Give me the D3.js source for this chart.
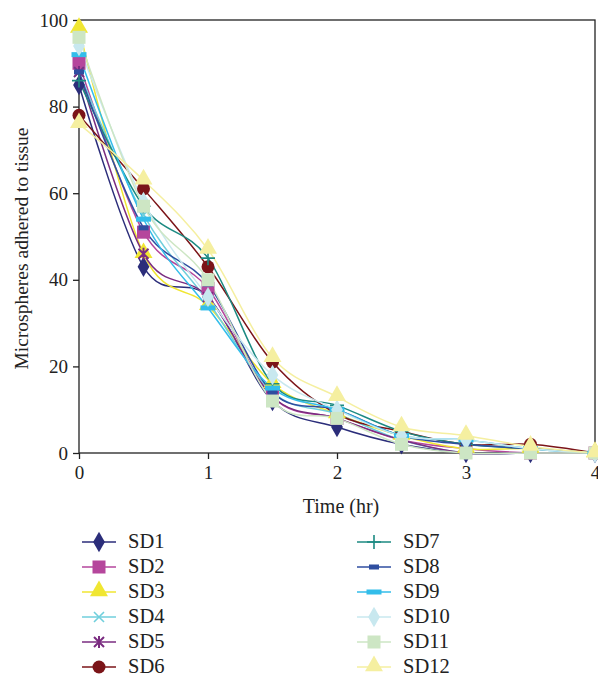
<!DOCTYPE html>
<html><head><meta charset="utf-8">
<script src="https://cdn.jsdelivr.net/npm/d3@7"></script>
<style>body{margin:0;background:#fff}svg{display:block}text{font-family:"Liberation Serif","Times New Roman",serif;fill:#222}</style>
</head><body><svg id="c" width="598" height="678"></svg>
<script>
const times = [0, 0.5, 1, 1.5, 2, 2.5, 3, 3.5, 4];
const seriesNames = ["SD1","SD2","SD3","SD4","SD5","SD6","SD7","SD8","SD9","SD10","SD11","SD12"];
const SD1  = [85, 43, 36, 12, 6, 2, 0, 0, 0];
const SD2  = [90, 51, 38, 13, 8, 3, 1, 0, 0];
const SD3  = [98, 46, 34, 16, 9, 4, 1, 1, 0];
const SD4  = [88, 55, 35, 14, 9, 3, 0, 0, 0];
const SD5  = [88, 46, 36, 13, 8, 3, 0, 0, 0];
const SD6  = [78, 61, 43, 21, 9, 5, 2, 2, 0];
const SD7  = [86, 57, 45, 16, 11, 5, 2, 1, 0];
const SD8  = [88, 52, 39, 14, 10, 4, 2, 1, 0];
const SD9  = [92, 54, 33.5, 15, 10, 4, 3, 1, 0];
const SD10 = [94, 58, 36, 18, 10, 4, 3, 1, 0];
const SD11 = [96, 57, 40, 12, 8, 2, 0, 0, 0];
const SD12 = [76, 63, 47, 22, 13, 6, 4, 1.5, 0];
const values = [SD1,SD2,SD3,SD4,SD5,SD6,SD7,SD8,SD9,SD10,SD11,SD12];
const colors = ["#2b2d7a","#b5469c","#f0e632","#70cfdc","#7a2c80","#7b1418","#1c8a82","#2f4ea0","#33bdea","#c8e8ef","#cde6c4","#f5efa0"];
const shapes = ["diamond","square","triangle","x","star","circle","plus","dash","longdash","diamond","square","triangle"];
const xTicks = [0,1,2,3,4];
const yTicks = [0,20,40,60,80,100];

const svg = d3.select("#c");
const L = 79, R = 595, T = 20, B = 453;
const x = d3.scaleLinear().domain([0,4]).range([L,R]);
const y = d3.scaleLinear().domain([0,100]).range([B,T]);

function drawMarker(g, shape, color){
  if(shape==="diamond") g.append("path").attr("d", d3.symbol(d3.symbolDiamond, 120)()).attr("fill", color);
  else if(shape==="square") g.append("rect").attr("x",-6.5).attr("y",-6.5).attr("width",13).attr("height",13).attr("fill", color);
  else if(shape==="triangle") g.append("path").attr("d", d3.symbol(d3.symbolTriangle, 140)()).attr("fill", color).attr("transform","translate(0,-1)");
  else if(shape==="circle") g.append("circle").attr("r",6.5).attr("fill", color);
  else if(shape==="x") g.append("path").attr("d","M-5,-5L5,5M-5,5L5,-5").attr("stroke",color).attr("stroke-width",1.6).attr("fill","none");
  else if(shape==="star") g.append("path").attr("d","M-5,-5L5,5M-5,5L5,-5M0,-6L0,6").attr("stroke",color).attr("stroke-width",2).attr("fill","none");
  else if(shape==="plus") g.append("path").attr("d","M-7,0L7,0M0,-7L0,7").attr("stroke",color).attr("stroke-width",1.6).attr("fill","none");
  else if(shape==="dash") g.append("rect").attr("x",-5).attr("y",-2.5).attr("width",10).attr("height",5).attr("fill", color);
  else if(shape==="longdash") g.append("rect").attr("x",-7.5).attr("y",-2.5).attr("width",15).attr("height",5).attr("fill", color);
}

// axes
const yAxis = d3.axisLeft(y).tickValues(yTicks).tickFormat(d3.format("d")).tickSize(6).tickPadding(5);
const xAxis = d3.axisBottom(x).tickValues(xTicks).tickFormat(d3.format("d")).tickSize(6).tickPadding(7);
const gy = svg.append("g").attr("transform",`translate(${L},0)`).call(yAxis);
const gx = svg.append("g").attr("transform",`translate(0,${B})`).call(xAxis);
[gy,gx].forEach(g=>{g.selectAll("path,line").attr("stroke","#222").attr("stroke-width",1.3);
  g.selectAll("text").style("font-family","'Liberation Serif',serif").style("font-size","19px").attr("fill","#222");});
gy.select(".domain").remove(); gx.select(".domain").remove();
svg.append("rect").attr("x",L).attr("y",T).attr("width",R-L).attr("height",B-T).attr("fill","none").attr("stroke","#222").attr("stroke-width",1.3);

svg.append("text").attr("transform",`translate(28,${(T+B)/2+12}) rotate(-90)`).attr("text-anchor","middle").style("font-size","19.5px").text("Microspheres adhered to tissue");
svg.append("text").attr("x",(L+R)/2+4).attr("y",513).attr("text-anchor","middle").style("font-size","20px").text("Time (hr)");

const line = d3.line().x((d,i)=>x(times[i])).y(d=>y(d)).curve(d3.curveCardinal.tension(0));
const plot = svg.append("g");
values.forEach((vals,k)=>{
  plot.append("path").attr("d", line(vals)).attr("fill","none").attr("stroke",colors[k]).attr("stroke-width",1.5);
});
values.forEach((vals,k)=>{
  vals.forEach((v,i)=>{
    const g = plot.append("g").attr("transform",`translate(${x(times[i])},${y(v)})`);
    drawMarker(g, shapes[k], colors[k]);
  });
});

// legend
const lg = svg.append("g");
seriesNames.forEach((n,k)=>{
  const col = k<6?0:1, row = k%6;
  const lx = col===0?82:357, ly = 542 + row*25;
  const g = lg.append("g").attr("transform",`translate(${lx},${ly})`);
  g.append("line").attr("x1",0).attr("x2",34).attr("stroke",colors[k]).attr("stroke-width",1.6);
  const m = g.append("g").attr("transform","translate(17,0)");
  drawMarker(m, shapes[k], colors[k]);
  g.append("text").attr("x",46).attr("y",6).style("font-size","20.5px").text(n);
});
</script></body></html>
